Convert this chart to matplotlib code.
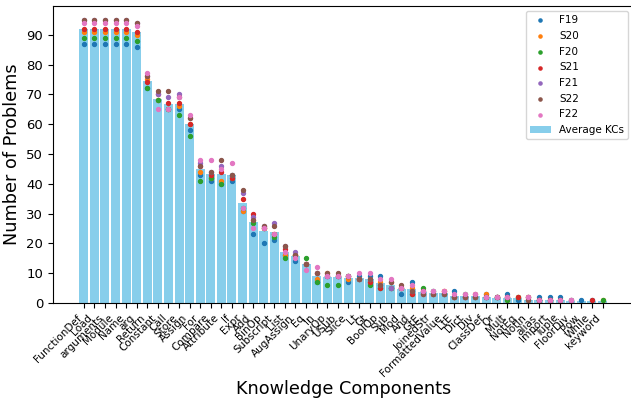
import numpy as np
import matplotlib
matplotlib.use("Agg")
import matplotlib.pyplot as plt
from matplotlib.ticker import MultipleLocator

nan = np.nan

kcs = ["FunctionDef", "Load", "arguments", "Module", "Name", "arg", "Return",
       "Constant", "Call", "Store", "Assign", "For", "Compare", "Attribute",
       "If", "Expr", "Add", "BinOp", "Subscript", "List", "AugAssign", "Eq",
       "In", "UnaryOp", "USub", "Slice", "Lt", "Gt", "BoolOp", "Sub", "Mod",
       "And", "GtE", "JoinedStr", "FormattedValue", "LtE", "Dict", "Div",
       "ClassDef", "Or", "Mult", "NotEq", "NotIn", "alias", "Import", "Tuple",
       "FloorDiv", "Pow", "While", "keyword"]

# average number of problems per KC (bars)
avg_kcs = [91.8, 91.8, 91.8, 91.8, 91.8, 90.8, 74.5, 68.5, 66.7, 66.8,
           60.2, 45.0, 43.3, 43.3, 43.0, 33.6, 27.2, 24.2, 23.8, 17.1,
           15.8, 13.1, 9.1, 8.8, 8.6, 8.4, 8.4, 7.9, 6.6, 6.0,
           4.7, 4.7, 3.7, 3.4, 3.4, 2.5, 2.35, 2.35, 2.0, 1.8,
           1.6, 1.6, 0.9, 1.0, 1.0, 1.0, 0.7, 0.7, 0.6, 0.6]

# per semester counts
F19 = [87, 87, 87, 87, 87, 86, 72, 68, 65, 65, 58, 43, 41, 40, 41, 31, 23, 20, 21, 16,
       14, 13, 7, 9, 9, 7, 9, 9, 9, 5, 3, 7, 4, 3, 3, 4, 2, 2, 3, 2,
       3, 1, 2, 2, 2, 2, 1, 1, 1, nan]
S20 = [91, 91, 91, 91, 91, 90, 75, 68, 65, 66, 60, 44, 42, 41, 42, 31, 28, 25, 23, 16,
       16, 13, 8, 10, 9, 8, 8, 7, 7, 5, 5, 5, 3, 3, 4, 2, 2, 2, 3, 2,
       1, 2, 2, 1, 1, nan, 1, nan, nan, 1]
F20 = [89, 89, 89, 89, 89, 88, 72, 68, 65, 63, 56, 41, 42, 40, 43, 32, 27, 25, 22, 15,
       16, 15, 7, 6, 6, 9, 8, 6, 5, 5, 5, 3, 5, 4, 3, 2, 3, 2, 2, 2,
       1, 2, 1, 1, nan, 1, nan, nan, nan, 1]
S21 = [92, 92, 92, 92, 92, 91, 74, 70, 67, 67, 60, 46, 43, 44, 42, 35, 30, 25, 23, 18,
       16, 13, 10, 9, 9, 9, 8, 7, 5, 7, 5, 3, 4, 3, 4, 2, 2, 3, 2, 2,
       2, 2, 2, 1, 1, 1, nan, nan, 1, nan]
F21 = [95, 95, 95, 95, 95, 94, 76, 70, 69, 70, 62, 47, 44, 46, 43, 37, 29, 26, 27, 19,
       17, 13, 10, 9, 9, 9, 8, 8, 6, 5, 5, 4, 3, 4, 3, 2, 2, 2, 2, 2,
       2, nan, 1, 1, nan, nan, 1, nan, nan, nan]
S22 = [95, 95, 95, 95, 95, 94, 76, 71, 71, 69, 62, 46, 44, 48, 43, 38, 28, 26, 26, 19,
       16, 13, 10, 10, 10, 9, 8, 8, 6, 7, 6, 4, 3, 3, 3, 2, 2, 2, 2, 2,
       2, nan, 1, 1, 1, nan, nan, nan, nan, nan]
F22 = [94, 94, 94, 94, 94, 93, 77, 65, 65, 69, 63, 48, 48, 45, 47, 32, 25, 25, 23, 17,
       15, 11, 12, 9, 9, 9, 10, 10, 8, 8, 5, 6, 4, 4, 4, 3, 3, 3, 2, 2,
       2, nan, 2, 1, 1, 1, 1, nan, nan, nan]

semesters = ["F19", "S20", "F20", "S21", "F21", "S22", "F22"]
series = [F19, S20, F20, S21, F21, S22, F22]

fig = plt.figure(figsize=(6.31, 3.98), dpi=100)
ax = fig.add_axes([0.0838, 0.2387, 0.92, 0.747])

x = np.arange(len(kcs))
ax.bar(x, avg_kcs, width=0.85, color="skyblue", label="Average KCs")
for name, vals in zip(semesters, series):
    ax.scatter(x, vals, s=8, label=name)

ax.yaxis.set_major_locator(MultipleLocator(10))
ax.set_xticks(x)
ax.set_xticklabels(kcs, rotation=45, ha="right", fontsize=7.5)
ax.tick_params(axis="y", labelsize=9.5)
ax.set_xlabel("Knowledge Components", fontsize=12.7, labelpad=1)
ax.set_ylabel("Number of Problems", fontsize=12.7)
ax.legend(loc="upper right", fontsize=7.5, markerscale=0.8, labelspacing=0.55)

fig.savefig("out.png", dpi=100)
